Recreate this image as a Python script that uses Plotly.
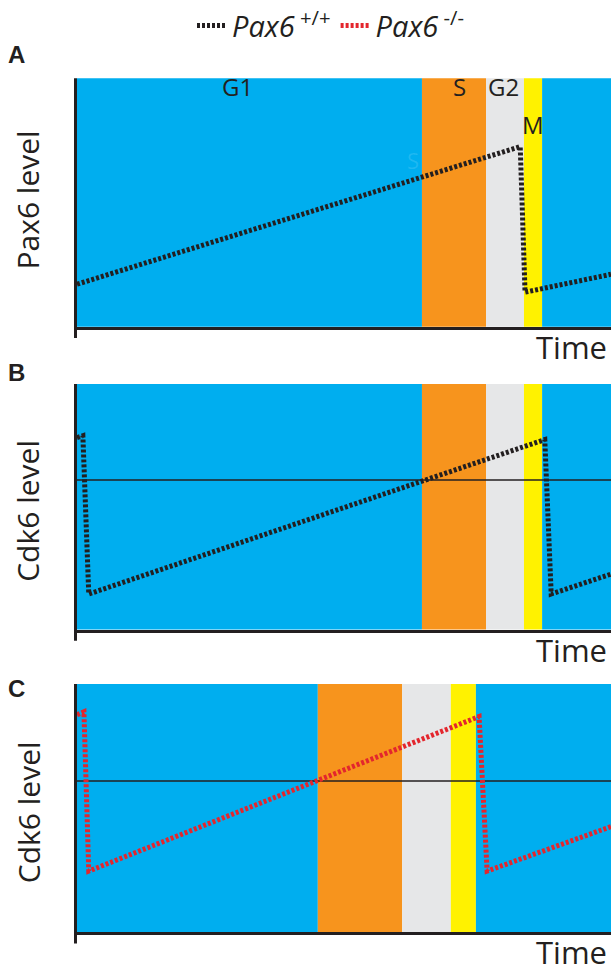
import plotly.graph_objects as go

W, H = 611, 975

# ---------------- data ----------------
# Phase bands (time units 0-100) for each panel
PHASE_COLORS = {"G1": "#00aeef", "S": "#f7941d", "G2": "#e6e7e8", "M": "#fff200"}
PHASES_A = ["G1", "S", "G2", "M", "G1"]
BOUNDS_A = [0, 64.6, 76.6, 83.7, 87.1, 100]
PHASES_B = ["G1", "S", "G2", "M", "G1"]
BOUNDS_B = [0, 64.6, 76.6, 83.7, 87.1, 100]
PHASES_C = ["G1", "S", "G2", "M", "G1"]
BOUNDS_C = [0, 45.1, 60.9, 70.0, 74.7, 100]

# Phase labels in panel A
LABEL_TEXT = ["G1", "S", "G2", "M"]
LABEL_X = [30.1, 71.7, 79.8, 85.4]
LABEL_Y = [96.8, 96.6, 96.6, 81.3]

# Pax6 level (wild type) - panel A
PAX6_T = [0, 83.0, 83.9, 100]
PAX6_Y = [17.1, 72.5, 13.9, 21.1]

# Cdk6 level (wild type) - panel B
CDK6_WT_T = [0, 1.1, 2.2, 87.6, 88.8, 100]
CDK6_WT_Y = [78.2, 79.0, 14.5, 77.4, 14.5, 22.6]

# Cdk6 level (Pax6 -/-) - panel C
CDK6_KO_T = [0, 1.3, 2.2, 75.3, 76.8, 100]
CDK6_KO_Y = [87.6, 88.8, 24.7, 86.9, 24.7, 42.6]

# reference (threshold) levels
HLINE_B = 60.9
HLINE_C = 61.0

BLACK = "#231f20"
RED = "#e3262d"
FONT = "Open Sans"

# ---------------- layout geometry (pixels) ----------------
def py(p):
    return 1 - p / H

X_DOM = [77 / W, 1.0]
PANELS = {"A": (69, 320), "B": (378, 626), "C": (681, 932)}

fig = go.Figure()

dash = "3px,2px"
fig.add_trace(go.Scatter(x=PAX6_T, y=PAX6_Y, mode="lines", xaxis="x", yaxis="y",
                         line=dict(color=BLACK, width=5, dash=dash),
                         name="<i>Pax6</i><sup> +/+</sup>", showlegend=True))
fig.add_trace(go.Scatter(x=CDK6_WT_T, y=CDK6_WT_Y, mode="lines", xaxis="x2", yaxis="y2",
                         line=dict(color=BLACK, width=5, dash=dash),
                         name="<i>Pax6</i><sup> +/+</sup>", showlegend=False))
fig.add_trace(go.Scatter(x=CDK6_KO_T, y=CDK6_KO_Y, mode="lines", xaxis="x3", yaxis="y3",
                         line=dict(color=RED, width=5, dash=dash),
                         name="<i>Pax6</i><sup> -/-</sup>", showlegend=True))

# phase bands
for xr, yr, phases, bounds in [("x", "y", PHASES_A, BOUNDS_A),
                               ("x2", "y2", PHASES_B, BOUNDS_B),
                               ("x3", "y3", PHASES_C, BOUNDS_C)]:
    for ph, x0, x1 in zip(phases, bounds[:-1], bounds[1:]):
        fig.add_shape(type="rect", xref=xr, yref=yr + " domain", x0=x0, x1=x1, y0=0, y1=1,
                      fillcolor=PHASE_COLORS[ph], line=dict(width=0), layer="below")

# threshold lines
for xr, yr, val in [("x2", "y2", HLINE_B), ("x3", "y3", HLINE_C)]:
    fig.add_shape(type="line", xref=xr + " domain", yref=yr, x0=0, x1=1, y0=val, y1=val,
                  line=dict(color=BLACK, width=1.5), layer="below")

# left axis lines (extend slightly below the time axis)
for yr in ["y", "y2", "y3"]:
    fig.add_shape(type="line", xref="paper", yref=yr + " domain",
                  x0=75.5 / W, x1=75.5 / W, y0=-0.045, y1=1,
                  line=dict(color=BLACK, width=3), layer="above")

# phase labels
for t, x, y in zip(LABEL_TEXT, LABEL_X, LABEL_Y):
    fig.add_annotation(x=x, y=y, xref="x", yref="y", text=t, showarrow=False,
                       font=dict(family=FONT, size=24, color=BLACK))
# faint ghost letter
fig.add_annotation(x=62.9, y=67.3, xref="x", yref="y", text="S", showarrow=False,
                   font=dict(family=FONT, size=22, color="rgba(255,255,255,0.13)"))

# axis titles and panel letters
YTITLES = {"A": "Pax6 level", "B": "Cdk6 level", "C": "Cdk6 level"}
YT_OFF = {"A": -2, "B": 4, "C": 4}
LETTER_Y = {"A": 45, "B": 366, "C": 686}
for k, (top, bot) in PANELS.items():
    fig.add_annotation(xref="paper", yref="paper", x=28 / W, y=py((top + bot) / 2 + YT_OFF[k]),
                       text=YTITLES[k], textangle=-90, showarrow=False,
                       xanchor="center", yanchor="middle",
                       font=dict(family=FONT, size=30, color=BLACK))
    fig.add_annotation(xref="paper", yref="paper", x=609 / W, y=py(bot - 3),
                       text="Time", showarrow=False, xanchor="right", yanchor="top",
                       font=dict(family=FONT, size=31, color=BLACK))
    fig.add_annotation(xref="paper", yref="paper", x=16 / W, y=py(LETTER_Y[k]),
                       text="<b>" + k + "</b>", showarrow=False,
                       xanchor="center", yanchor="middle",
                       font=dict(family="Liberation Sans", size=24, color=BLACK))

axis_common = dict(range=[0, 100], showgrid=False, zeroline=False, showticklabels=False,
                   ticks="", fixedrange=True)
xaxis_common = dict(axis_common, showline=True, linewidth=3, linecolor=BLACK)
yaxis_common = dict(axis_common, showline=False)

layout_axes = {}
for i, k in enumerate(["A", "B", "C"]):
    top, bot = PANELS[k]
    sfx = "" if i == 0 else str(i + 1)
    layout_axes["xaxis" + sfx] = dict(xaxis_common, domain=X_DOM,
                                      anchor="y" + sfx)
    layout_axes["yaxis" + sfx] = dict(yaxis_common, domain=[py(bot), py(top)],
                                      anchor="x" + sfx)

fig.update_layout(
    width=W, height=H,
    margin=dict(l=0, r=0, t=0, b=0),
    paper_bgcolor="white", plot_bgcolor="white",
    showlegend=True,
    legend=dict(orientation="h", x=192 / W, y=1 + 10 / H, xanchor="left", yanchor="top",
                font=dict(family=FONT, size=29, color=BLACK),
                itemwidth=30, tracegroupgap=0, bgcolor="rgba(0,0,0,0)"),
    **layout_axes,
)

fig.write_html("out.html", config={"displayModeBar": False},
               post_script="document.body.style.margin='0';document.body.style.overflow='hidden';")
